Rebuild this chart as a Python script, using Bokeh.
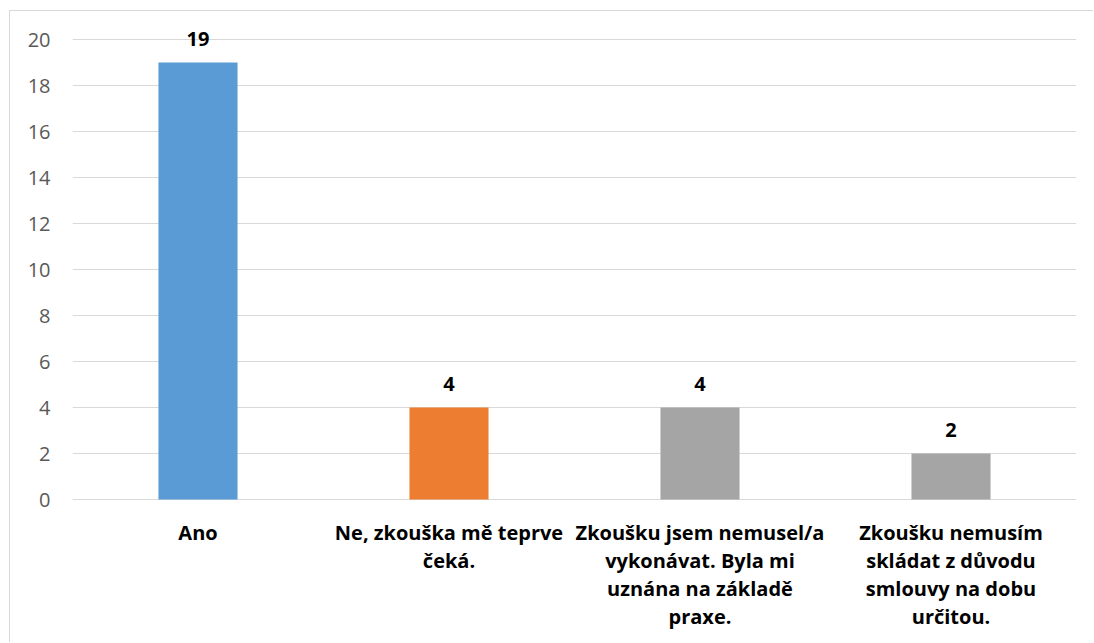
from bokeh.plotting import figure
from bokeh.models import FactorRange, Range1d, FixedTicker, ColumnDataSource
from bokeh.core.properties import value
from bokeh.embed import file_html
from bokeh.resources import INLINE

# ---- data ----
categories = [
    "Ano",
    "Ne, zkouška mě teprve\nčeká.",
    "Zkoušku jsem nemusel/a\nvykonávat. Byla mi\nuznána na základě\npraxe.",
    "Zkoušku nemusím\nskládat z důvodu\nsmlouvy na dobu\nurčitou.",
]
counts = [19, 4, 4, 2]
colors = ["#5B9BD5", "#ED7D31", "#A5A5A5", "#A5A5A5"]
y_ticks = [0, 2, 4, 6, 8, 10, 12, 14, 16, 18, 20]

FONT = "Open Sans"

p = figure(
    width=1084, height=632,
    x_range=FactorRange(*categories, range_padding=0),
    y_range=Range1d(-6.26, 21),
    output_backend="svg", toolbar_location=None,
    min_border_left=62, min_border_right=18, min_border_top=5, min_border_bottom=0,
)
p.styles = {"border-left": "1px solid #d9d9d9", "border-top": "1px solid #d9d9d9",
            "margin-left": "9px", "margin-top": "10px"}
p.outline_line_color = None
p.background_fill_color = "white"
p.border_fill_color = "white"

src = ColumnDataSource(dict(cat=categories, val=counts, color=colors,
                            lbl=[str(v) for v in counts],
                            base=[0] * len(counts)))

p.vbar(x="cat", top="val", bottom=0, width=0.315, color="color", line_color=None, source=src)

# value labels
p.text(x="cat", y="val", text="lbl", source=src, text_align="center", text_baseline="middle",
       y_offset=-24, text_font=value(FONT), text_font_style="bold", text_font_size="20px",
       text_color="black")

# category labels (drawn below the zero line)
p.text(x="cat", y="base", text="cat", source=src, text_align="center", text_baseline="top",
       y_offset=19, text_font=value(FONT), text_font_style="bold", text_font_size="20px",
       text_color="black", text_line_height=1.04)

p.xaxis.visible = False
p.xgrid.grid_line_color = None

ax = p.yaxis[0]
ax.ticker = FixedTicker(ticks=y_ticks)
ax.axis_line_color = None
ax.major_tick_line_color = None
ax.minor_tick_line_color = None
ax.major_tick_out = 0
ax.major_tick_in = 0
ax.major_label_standoff = 22
ax.major_label_text_font = FONT
ax.major_label_text_font_size = "20px"
ax.major_label_text_color = "#595959"

p.ygrid.grid_line_color = "#d9d9d9"
p.ygrid.grid_line_width = 1

open("out.html", "w").write(file_html(p, INLINE))
